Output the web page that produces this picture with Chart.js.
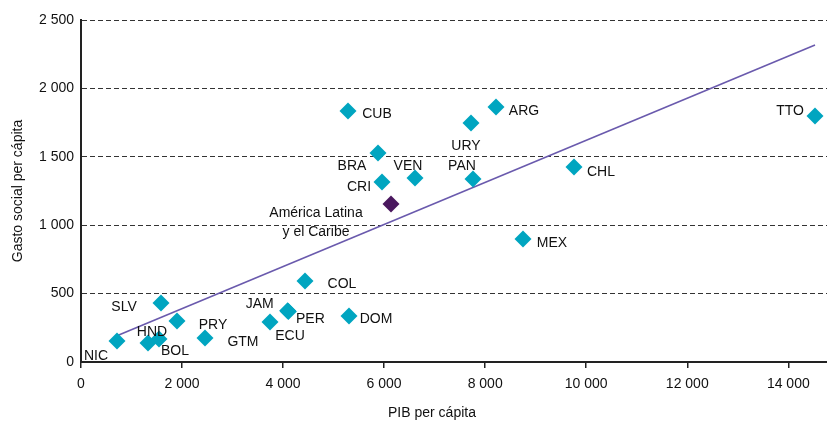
<!DOCTYPE html>
<html>
<head>
<meta charset="utf-8">
<script src="https://cdn.jsdelivr.net/npm/chart.js@4/dist/chart.umd.min.js"></script>
<style>
  body { margin: 0; background: #fff; }
  #caja { width: 827px; height: 421px; }
</style>
</head>
<body>
<div id="caja"><canvas id="grafico" width="827" height="421"></canvas></div>
<script>
// datos (PIB per capita vs gasto social per capita)
const paises = ['NIC','HND','BOL','SLV','PRY','GTM','ECU','JAM','PER','COL','DOM','CUB','BRA','CRI','VEN','URY','PAN','ARG','CHL','MEX','TTO'];
const pib    = [713, 1326, 1544, 1584, 1900, 2454, 3741, 4090, 4105, 4434, 5305, 5285, 5879, 5958, 6611, 7720, 7759, 8214, 9758, 8749, 14529];
const gasto  = [154, 139, 168, 431, 300, 175, 292, 375, 370, 592, 336, 1835, 1528, 1316, 1345, 1747, 1338, 1864, 1425, 899, 1798];

const regionNombre = ['América Latina', 'y el Caribe'];
const regionPib = [6136];
const regionGasto = [1155];

// recta de tendencia (extremos)
const tendX = [700, 14529];
const tendY = [190, 2317];

const ticksX = [0, 2000, 4000, 6000, 8000, 10000, 12000, 14000];
const ticksY = [0, 500, 1000, 1500, 2000, 2500];

// desplazamiento de cada etiqueta respecto a su marcador (px)
const posEtiqueta = {
    NIC: [-21, 15], HND: [4, -11], BOL: [16, 12], SLV: [-37, 4], PRY: [36, 4],
    GTM: [38, 4], ECU: [20, 14], JAM: [-28, -7], PER: [22, 8], COL: [37, 3],
    DOM: [27, 3], CUB: [29, 3], BRA: [-26, 13], CRI: [-23, 5], VEN: [-7, -12],
    URY: [-5, 23], PAN: [-11, -13], ARG: [28, 4], CHL: [27, 5], MEX: [29, 4],
    TTO: [-25, -5]
};

const fuente = 'Arial, "Liberation Sans", sans-serif';
const conEspacio = v => String(v).replace(/\B(?=(\d{3})+(?!\d))/g, ' ');

const etiquetas = {
    id: 'etiquetas',
    afterDatasetsDraw(chart) {
        const ctx = chart.ctx;
        ctx.save();
        ctx.font = '14px ' + fuente;
        ctx.fillStyle = '#111';
        ctx.textAlign = 'center';
        ctx.textBaseline = 'middle';
        const pts = chart.getDatasetMeta(1).data;
        pts.forEach((p, i) => {
            const d = posEtiqueta[paises[i]];
            ctx.fillText(paises[i], p.x + d[0], p.y + d[1]);
        });
        const r = chart.getDatasetMeta(2).data[0];
        ctx.fillText(regionNombre[0], r.x - 75, r.y + 9);
        ctx.fillText(regionNombre[1], r.x - 75, r.y + 28);
        // titulo eje x
        ctx.fillText('PIB per cápita', 432, 413);
        ctx.restore();
    }
};

new Chart(document.getElementById('grafico'), {
    type: 'scatter',
    data: {
        datasets: [
            {
                label: 'Tendencia',
                data: tendX.map((x, i) => ({ x: x, y: tendY[i] })),
                showLine: true,
                borderColor: '#6a5aad',
                borderWidth: 1.6,
                pointRadius: 0,
                order: 3
            },
            {
                label: 'Países',
                data: pib.map((x, i) => ({ x: x, y: gasto[i] })),
                pointStyle: 'rectRot',
                pointRadius: 8.5,
                pointHoverRadius: 8.5,
                backgroundColor: '#00a5c0',
                borderColor: '#00a5c0',
                borderWidth: 0,
                order: 2
            },
            {
                label: 'América Latina y el Caribe',
                data: regionPib.map((x, i) => ({ x: x, y: regionGasto[i] })),
                pointStyle: 'rectRot',
                pointRadius: 8.5,
                pointHoverRadius: 8.5,
                backgroundColor: '#4a175e',
                borderColor: '#4a175e',
                borderWidth: 0,
                order: 1
            }
        ]
    },
    options: {
        responsive: false,
        animation: false,
        layout: { autoPadding: false, padding: { top: 20, right: 0, bottom: 0, left: 0 } },
        plugins: { legend: { display: false }, tooltip: { enabled: false } },
        scales: {
            x: {
                type: 'linear',
                min: 0,
                max: 14766,
                afterBuildTicks: s => { s.ticks = ticksX.map(v => ({ value: v })); },
                afterFit: s => { s.height = 59; s.paddingRight = 0; s.paddingLeft = 0; },
                ticks: {
                    color: '#111',
                    font: { family: fuente, size: 14 },
                    padding: 8,
                    maxRotation: 0,
                    callback: v => conEspacio(v)
                },
                grid: { drawOnChartArea: false, drawTicks: true, tickLength: 6, color: '#222', lineWidth: 1.5 },
                border: { color: '#222', width: 2 }
            },
            y: {
                type: 'linear',
                min: 0,
                max: 2500,
                afterBuildTicks: s => { s.ticks = ticksY.map(v => ({ value: v })); },
                afterFit: s => { s.width = 81; },
                ticks: {
                    color: '#111',
                    font: { family: fuente, size: 14 },
                    padding: 7,
                    callback: v => conEspacio(v)
                },
                title: {
                    display: true,
                    text: 'Gasto social per cápita',
                    color: '#111',
                    font: { family: fuente, size: 14 },
                    padding: { top: 10, bottom: 0 }
                },
                grid: { drawTicks: false, color: '#333', lineWidth: 1 },
                border: { color: '#222', width: 2, dash: [5, 3] }
            }
        }
    },
    plugins: [etiquetas]
});
</script>
</body>
</html>
